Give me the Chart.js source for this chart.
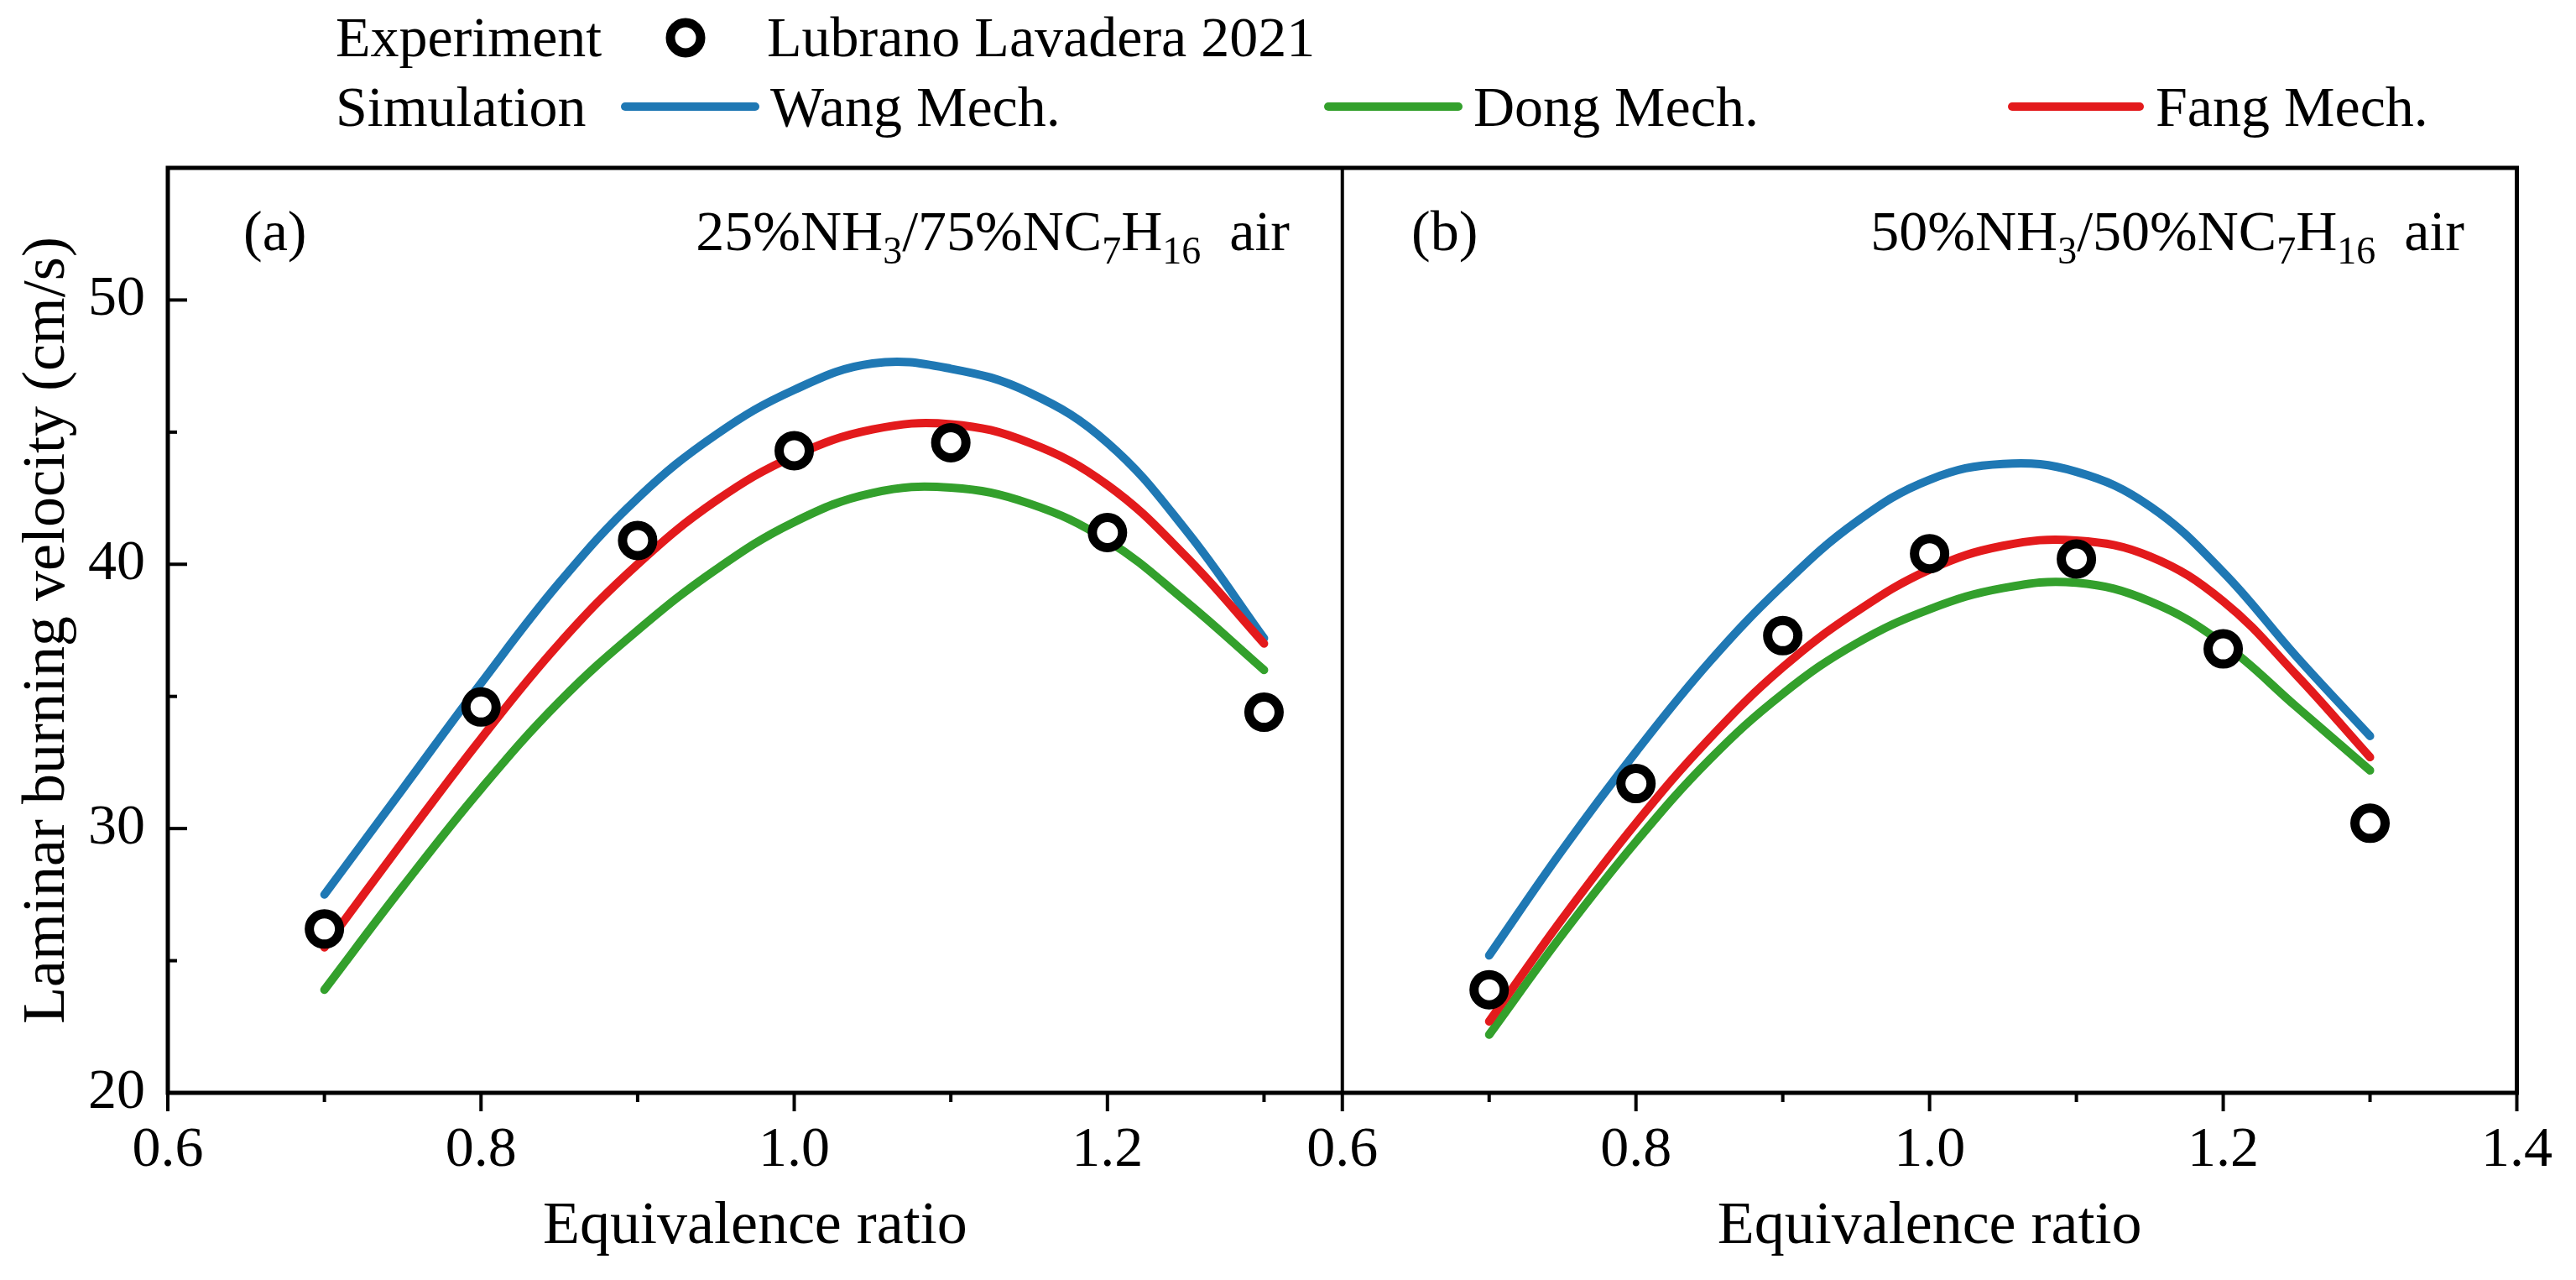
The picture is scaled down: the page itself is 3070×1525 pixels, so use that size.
<!DOCTYPE html>
<html>
<head>
<meta charset="utf-8">
<title>Laminar burning velocity</title>
<script src="https://cdn.jsdelivr.net/npm/chart.js@4.4.1/dist/chart.umd.min.js"></script>
<style>
  html, body { margin: 0; padding: 0; background: #fff; }
  #box { width: 3070px; height: 1525px; }
</style>
</head>
<body>
<div id="box"><canvas id="chart-velocity" width="3070" height="1525"></canvas></div>
<script>
// Equivalence ratio of the simulations and of the measurements (both panels)
const phi_sim = [0.70, 0.75, 0.80, 0.85, 0.90, 0.95, 1.00, 1.05, 1.10, 1.15, 1.20, 1.25, 1.30];
const phi_exp = [0.7, 0.8, 0.9, 1.0, 1.1, 1.2, 1.3];

// (a) 25%NH3/75%NC7H16 - air
const exp_a  = [26.2, 34.6, 40.9, 44.3, 44.6, 41.2, 34.4];
const wang_a = [27.5, 31.5, 35.5, 39.3, 42.5, 44.9, 46.6, 47.6, 47.4, 46.5, 44.6, 41.3, 37.2];
const dong_a = [23.9, 27.8, 31.5, 34.8, 37.5, 39.8, 41.6, 42.7, 42.9, 42.3, 40.9, 38.6, 36.0];
const fang_a = [25.5, 29.5, 33.4, 37.0, 40.0, 42.4, 44.1, 45.1, 45.3, 44.6, 43.0, 40.3, 37.0];

// (b) 50%NH3/50%NC7H16 - air
const exp_b  = [23.9, 31.7, 37.3, 40.4, 40.2, 36.8, 30.2];
const wang_b = [25.2, 29.2, 32.9, 36.3, 39.2, 41.6, 43.2, 43.8, 43.5, 42.2, 39.7, 36.5, 33.5];
const dong_b = [22.2, 26.0, 29.5, 32.6, 35.1, 37.0, 38.3, 39.1, 39.3, 38.6, 37.0, 34.6, 32.2];
const fang_b = [22.7, 26.6, 30.2, 33.4, 36.1, 38.2, 39.8, 40.7, 40.9, 40.3, 38.6, 35.8, 32.7];

const serif = '"Liberation Serif", "Times New Roman", serif';
Chart.defaults.font.family = serif;
Chart.defaults.color = '#000';

const colors = { wang: '#1f78b4', dong: '#33a02c', fang: '#e31a1c' };

function pairs(xs, ys) {
  return xs.map((x, i) => ({ x: x, y: ys[i] }));
}

function simLine(label, ys, color, axis, order) {
  return {
    label: label,
    data: pairs(phi_sim, ys),
    xAxisID: axis,
    yAxisID: 'y',
    borderColor: color,
    backgroundColor: color,
    borderWidth: 10,
    borderCapStyle: 'round',
    borderJoinStyle: 'round',
    pointRadius: 0,
    pointHoverRadius: 0,
    tension: 0.4,
    fill: false,
    order: order,
  };
}

function expPoints(label, ys, axis) {
  return {
    label: label,
    data: pairs(phi_exp, ys),
    xAxisID: axis,
    yAxisID: 'y',
    showLine: false,
    pointStyle: 'circle',
    pointRadius: 18,
    pointHoverRadius: 18,
    pointBorderWidth: 11,
    pointHoverBorderWidth: 11,
    pointBorderColor: '#000',
    pointBackgroundColor: '#fff',
    borderColor: '#000',
    backgroundColor: '#fff',
    order: 0,
  };
}

// only the labelled ticks count as major ticks
function isMajor(v, step) {
  const k = v / step;
  return Math.abs(k - Math.round(k)) < 1e-6;
}

// Frame, middle divider and tick marks (major + minor) from the scales
const frameTicks = {
  id: 'frameTicks',
  afterDraw(chart) {
    const { ctx, chartArea: a, scales } = chart;
    ctx.save();
    ctx.strokeStyle = '#000';
    ctx.lineCap = 'butt';
    ctx.lineWidth = 4;

    // y ticks point inwards
    const ys = scales.y;
    ys.ticks.filter(t => isMajor(t.value, 10)).forEach(t => {
      const py = ys.getPixelForValue(t.value);
      ctx.beginPath(); ctx.moveTo(a.left, py); ctx.lineTo(a.left + 23, py); ctx.stroke();
      const m = t.value + 5;
      if (m < ys.max) {
        const pm = ys.getPixelForValue(m);
        ctx.beginPath(); ctx.moveTo(a.left, pm); ctx.lineTo(a.left + 11, pm); ctx.stroke();
      }
    });

    // x ticks point outwards
    ['xa', 'xb'].forEach(id => {
      const xs = scales[id];
      xs.ticks.filter(t => isMajor(t.value, 0.2)).forEach(t => {
        const px = xs.getPixelForValue(t.value);
        ctx.beginPath(); ctx.moveTo(px, a.bottom); ctx.lineTo(px, a.bottom + 22); ctx.stroke();
        const m = t.value + 0.1;
        if (m <= xs.max + 1e-9) {
          const pm = xs.getPixelForValue(m);
          ctx.beginPath(); ctx.moveTo(pm, a.bottom); ctx.lineTo(pm, a.bottom + 11); ctx.stroke();
        }
      });
    });

    ctx.lineWidth = 5;
    ctx.strokeRect(a.left, a.top, a.right - a.left, a.bottom - a.top);
    ctx.lineWidth = 4;
    ctx.beginPath();
    ctx.moveTo(scales.xa.right, a.top);
    ctx.lineTo(scales.xa.right, a.bottom);
    ctx.stroke();
    ctx.restore();
  }
};

// text with subscripts: parts = [[text, isSub], ...]
function richText(ctx, parts, x, y, align) {
  const big = '68px ' + serif;
  const small = '46px ' + serif;
  let w = 0;
  parts.forEach(p => { ctx.font = p[1] ? small : big; w += ctx.measureText(p[0]).width; });
  let cx = align === 'right' ? x - w : x;
  parts.forEach(p => {
    ctx.font = p[1] ? small : big;
    ctx.fillText(p[0], cx, p[1] ? y + 16 : y);
    cx += ctx.measureText(p[0]).width;
  });
}

const panelText = {
  id: 'panelText',
  afterDraw(chart) {
    const { ctx } = chart;
    ctx.save();
    ctx.fillStyle = '#000';
    ctx.textBaseline = 'alphabetic';
    ctx.textAlign = 'left';
    richText(ctx, [['(a)', false]], 290, 298, 'left');
    richText(ctx, [['25%NH', false], ['3', true], ['/75%NC', false], ['7', true], ['H', false], ['16', true], ['  air', false]], 1537, 298, 'right');
    richText(ctx, [['(b)', false]], 1682, 298, 'left');
    richText(ctx, [['50%NH', false], ['3', true], ['/50%NC', false], ['7', true], ['H', false], ['16', true], ['  air', false]], 2937, 298, 'right');
    ctx.restore();
  }
};

// Two-row legend above the panels, styled from the datasets
const legendRows = {
  id: 'legendRows',
  afterDraw(chart) {
    const { ctx } = chart;
    const ds = chart.data.datasets;
    const font = '68px ' + serif;
    ctx.save();
    ctx.fillStyle = '#000';
    ctx.font = font;
    ctx.textBaseline = 'alphabetic';
    ctx.textAlign = 'left';

    ctx.fillText('Experiment', 400, 67);
    const e = ds[0];
    ctx.beginPath();
    ctx.arc(817, 45, e.pointRadius, 0, Math.PI * 2);
    ctx.fillStyle = e.pointBackgroundColor;
    ctx.fill();
    ctx.lineWidth = e.pointBorderWidth;
    ctx.strokeStyle = e.pointBorderColor;
    ctx.stroke();
    ctx.fillStyle = '#000';
    ctx.fillText(e.label, 914, 67);

    ctx.fillText('Simulation', 400, 150);
    const items = [[ds[1], 745, 900, 918], [ds[2], 1583, 1738, 1756], [ds[3], 2398, 2550, 2569]];
    items.forEach(([d, x0, x1, tx]) => {
      ctx.strokeStyle = d.borderColor;
      ctx.lineWidth = d.borderWidth;
      ctx.lineCap = 'round';
      ctx.beginPath(); ctx.moveTo(x0, 127); ctx.lineTo(x1, 127); ctx.stroke();
      ctx.fillStyle = '#000';
      ctx.fillText(d.label, tx, 150);
    });
    ctx.restore();
  }
};

const data_velocity = {
  datasets: [
    expPoints('Lubrano Lavadera 2021', exp_a, 'xa'),
    simLine('Wang Mech.', wang_a, colors.wang, 'xa', 3),
    simLine('Dong Mech.', dong_a, colors.dong, 'xa', 2),
    simLine('Fang Mech.', fang_a, colors.fang, 'xa', 1),
    expPoints('Lubrano Lavadera 2021', exp_b, 'xb'),
    simLine('Wang Mech.', wang_b, colors.wang, 'xb', 3),
    simLine('Dong Mech.', dong_b, colors.dong, 'xb', 2),
    simLine('Fang Mech.', fang_b, colors.fang, 'xb', 1),
  ]
};

function phiAxis(max) {
  return {
    type: 'linear',
    position: 'bottom',
    stack: 'phi',
    stackWeight: 1,
    bounds: 'data',
    min: 0.6,
    max: max,
    ticks: {
      stepSize: 0.2,
      includeBounds: false,
      autoSkip: false,
      maxRotation: 0,
      padding: 28,
      font: { size: 68 },
      callback: v => isMajor(v, 0.2) ? v.toFixed(1) : null,
    },
    grid: { display: false, drawTicks: false },
    border: { display: false },
    title: {
      display: true,
      text: 'Equivalence ratio',
      font: { size: 72 },
      padding: { top: 0, bottom: 20 },
    },
    afterFit(s) { s.height = 223; },
  };
}

const config_velocity = {
  type: 'line',
  data: data_velocity,
  options: {
    responsive: false,
    animation: false,
    devicePixelRatio: 1,
    layout: { padding: { top: 200, right: 62, left: 0, bottom: 0 } },
    plugins: {
      legend: { display: false },
      tooltip: { enabled: false },
    },
    scales: {
      xa: phiAxis(1.35),
      xb: phiAxis(1.4),
      y: {
        type: 'linear',
        position: 'left',
        bounds: 'data',
        min: 20,
        max: 55,
        ticks: {
          stepSize: 10,
          includeBounds: false,
          padding: 27,
          font: { size: 68 },
          callback: v => isMajor(v, 10) ? String(v) : null,
        },
        grid: { display: false, drawTicks: false },
        border: { display: false },
        title: {
          display: true,
          text: 'Laminar burning velocity (cm/s)',
          font: { size: 72 },
          padding: { top: 14, bottom: 0 },
        },
        afterFit(s) { s.width = 200; },
      },
    },
  },
  plugins: [frameTicks, panelText, legendRows],
};

const myChart_velocity = new Chart(
  document.getElementById('chart-velocity'),
  config_velocity
);
</script>
</body>
</html>
